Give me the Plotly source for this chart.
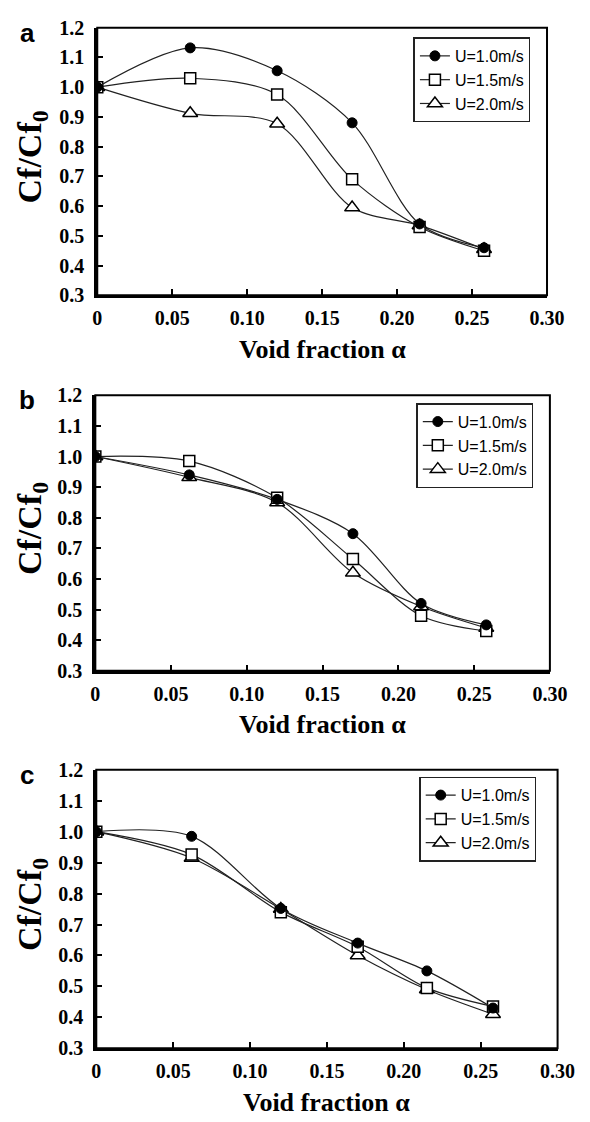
import plotly.graph_objects as go

# ---------------- data ----------------
void_fraction = [0.0, 0.062, 0.12, 0.17, 0.215, 0.258]
series_names = ["U=1.0m/s", "U=1.5m/s", "U=2.0m/s"]

a_u10 = [1.00, 1.132, 1.055, 0.880, 0.540, 0.460]
a_u15 = [1.00, 1.030, 0.975, 0.690, 0.530, 0.450]
a_u20 = [1.00, 0.912, 0.877, 0.595, 0.535, 0.455]

b_u10 = [1.00, 0.940, 0.860, 0.748, 0.520, 0.450]
b_u15 = [1.00, 0.985, 0.865, 0.665, 0.480, 0.430]
b_u20 = [1.00, 0.932, 0.850, 0.620, 0.510, 0.440]

c_u10 = [1.00, 0.985, 0.752, 0.640, 0.550, 0.430]
c_u15 = [1.00, 0.926, 0.740, 0.628, 0.495, 0.435]
c_u20 = [1.00, 0.915, 0.750, 0.600, 0.490, 0.410]

panel_letters = ["a", "b", "c"]
x_tickvals = [0, 0.05, 0.10, 0.15, 0.20, 0.25, 0.30]
x_ticktext = ["0", "0.05", "0.10", "0.15", "0.20", "0.25", "0.30"]
y_tickvals = [0.3, 0.4, 0.5, 0.6, 0.7, 0.8, 0.9, 1.0, 1.1, 1.2]
y_ticktext = ["0.3", "0.4", "0.5", "0.6", "0.7", "0.8", "0.9", "1.0", "1.1", "1.2"]
x_title = "Void fraction α"
y_title = "Cf/Cf<sub>0</sub>"

# ---------------- layout helpers ----------------
W, H = 590, 1122
panels = [
    dict(data=[a_u10, a_u15, a_u20], px=(96, 564), py=(17, 290), leg=(425, 27)),
    dict(data=[b_u10, b_u15, b_u20], px=(94, 567), py=(392, 673), leg=(428, 400)),
    dict(data=[c_u10, c_u15, c_u20], px=(95, 575), py=(774, 1058), leg=(431, 781)),
]

markers = [
    dict(symbol="circle", size=10, color="black", line=dict(color="black", width=1)),
    dict(symbol="square", size=11, color="white", line=dict(color="black", width=1.5)),
    dict(symbol="triangle-up", size=13, color="white", line=dict(color="black", width=1.5)),
]

SERIF = "Liberation Serif, Times New Roman, serif"
SANS = "Liberation Sans, Arial, sans-serif"

fig = go.Figure()
layout = dict(
    width=W, height=H,
    margin=dict(l=0, r=0, t=0, b=0),
    paper_bgcolor="white", plot_bgcolor="white",
    showlegend=True,
    annotations=[], shapes=[],
)

for i, p in enumerate(panels):
    n = "" if i == 0 else str(i + 1)
    xa, ya = "x" + n, "y" + n
    legname = "legend" if i == 0 else "legend" + str(i + 1)
    # draw in reverse order so filled circles sit on top
    for k in [2, 1, 0]:
        fig.add_trace(go.Scatter(
            x=void_fraction, y=p["data"][k], name=series_names[k],
            mode="lines+markers",
            line=dict(color="#222", width=1.2, shape="spline", smoothing=0.9),
            marker=markers[k],
            xaxis=xa, yaxis=ya, legend=legname, legendrank=k,
        ))
    x0, x1 = p["px"]
    y0, y1 = p["py"]
    tickfont = dict(family=SERIF, size=20, color="black", weight="bold")
    layout["xaxis" + n] = dict(
        domain=[x0 / W, x1 / W], range=[0, 0.30], anchor=ya,
        tickvals=x_tickvals, ticktext=x_ticktext,
        ticks="inside", ticklen=6, tickwidth=1.5, tickcolor="black",
        showline=True, linewidth=3, linecolor="black", mirror=False,
        showgrid=False, zeroline=False,
        tickfont=tickfont, ticklabelstandoff=3,
    )
    layout["yaxis" + n] = dict(
        domain=[1 - y1 / H, 1 - y0 / H], range=[0.3, 1.2], anchor=xa,
        tickvals=y_tickvals, ticktext=y_ticktext,
        ticks="inside", ticklen=6, tickwidth=1.5, tickcolor="black",
        showline=True, linewidth=3, linecolor="black", mirror=False,
        showgrid=False, zeroline=False,
        tickfont=tickfont, ticklabelstandoff=6,
    )
    # frame (top/right thinner)
    layout["shapes"].append(dict(
        type="rect", xref=xa + " domain", yref=ya + " domain",
        x0=0, x1=1, y0=0, y1=1, line=dict(color="black", width=2), layer="above",
    ))
    lx, ly = p["leg"]
    layout[legname] = dict(
        x=lx / W, y=1 - ly / H, xanchor="left", yanchor="top",
        bgcolor="white", bordercolor="#222", borderwidth=1.5,
        font=dict(family=SANS, size=16, color="black"),
        tracegroupgap=0, itemwidth=30,
    )
    # axis titles
    layout["annotations"].append(dict(
        text=x_title, xref="paper", yref="paper",
        x=(x0 + x1) / 2 / W, y=1 - (y1 + 55) / H,
        xanchor="center", yanchor="middle", showarrow=False,
        font=dict(family=SERIF, size=26, color="black", weight="bold"),
    ))
    layout["annotations"].append(dict(
        text=y_title, xref="paper", yref="paper",
        x=28 / W, y=1 - ((y0 + y1) / 2 - 5) / H, textangle=-90,
        xanchor="center", yanchor="middle", showarrow=False,
        font=dict(family=SERIF, size=34, color="black", weight="bold"),
    ))
    layout["annotations"].append(dict(
        text=panel_letters[i], xref="paper", yref="paper",
        x=23 / W, y=1 - (y0 + 5) / H,
        xanchor="center", yanchor="middle", showarrow=False,
        font=dict(family=SANS, size=26, color="black", weight="bold"),
    ))

fig.update_layout(**layout)
fig.write_html("out.html")
